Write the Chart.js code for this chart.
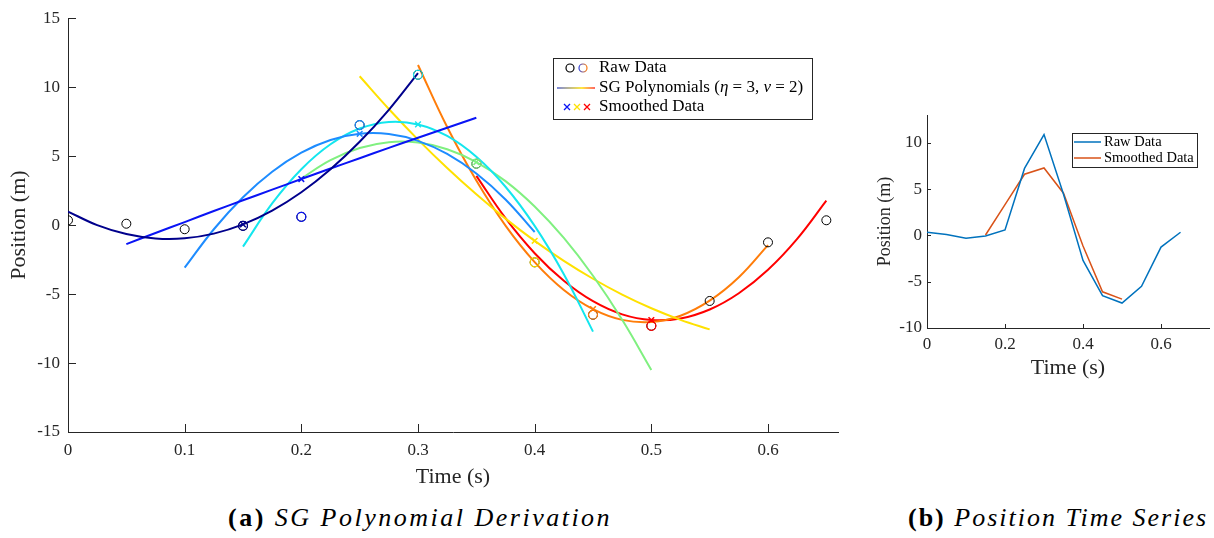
<!DOCTYPE html>
<html>
<head>
<meta charset="utf-8">
<script src="https://cdn.jsdelivr.net/npm/chart.js@4.4.0/dist/chart.umd.min.js"></script>
<style>
  html, body { margin: 0; padding: 0; background: #fff; }
  body { width: 1214px; height: 538px; position: relative; overflow: hidden; font-family: "Liberation Serif", serif; color: #000; }
  #sgChart { position: absolute; left: 0; top: 0; }
  #tsChart { position: absolute; left: 860px; top: 100px; }
  .cap { position: absolute; top: 503px; font-size: 26px; white-space: nowrap; }
</style>
</head>
<body>
<canvas id="sgChart" width="850" height="500"></canvas>
<canvas id="tsChart" width="354" height="290"></canvas>
<div class="cap" style="left:228px; letter-spacing:2.5px"><b>(a)</b> <i>SG Polynomial Derivation</i></div>
<div class="cap" style="left:908px; letter-spacing:2px"><b>(b)</b> <i>Position Time Series</i></div>
<script>
// raw samples
const rawTime = [0, 0.05, 0.1, 0.15, 0.2, 0.25, 0.3, 0.35, 0.4, 0.45, 0.5, 0.55, 0.6, 0.65];
const rawPosition = [0.35, 0.1, -0.3, -0.05, 0.6, 7.25, 10.9, 4.45, -2.7, -6.5, -7.3, -5.5, -1.25, 0.35];

// smoothed samples (window centres)
const smoothTime = [0.15, 0.2, 0.25, 0.3, 0.35, 0.4, 0.45, 0.5];
const smoothPosition = [0.05, 3.34, 6.62, 7.30, 4.57, -1.14, -6.09, -6.88];

// SG polynomial curves, sampled at centre + offset
const polyOffsets = [-0.15, -0.125, -0.1, -0.075, -0.05, -0.025, 0, 0.025, 0.05, 0.075, 0.1, 0.125, 0.15];
const poly015 = [0.98, 0.00, -0.65, -0.97, -0.96, -0.62, 0.05, 1.05, 2.38, 4.05, 6.04, 8.36, 11.02];
const poly020 = [-1.38, -0.57, 0.22, 1.02, 1.80, 2.57, 3.34, 4.10, 4.85, 5.60, 6.33, 7.06, 7.78];
const poly025 = [-3.09, -0.30, 2.02, 3.87, 5.25, 6.17, 6.62, 6.60, 6.11, 5.16, 3.74, 1.86, -0.50];
const poly030 = [-1.56, 1.57, 4.05, 5.86, 7.00, 7.48, 7.30, 6.46, 4.95, 2.78, -0.06, -3.56, -7.72];
const poly035 = [3.38, 4.71, 5.59, 6.01, 5.98, 5.50, 4.57, 3.19, 1.35, -0.93, -3.67, -6.86, -10.50];
const poly040 = [10.79, 8.42, 6.20, 4.14, 2.23, 0.47, -1.14, -2.59, -3.89, -5.04, -6.03, -6.87, -7.56];
const poly045 = [11.61, 7.11, 3.23, -0.04, -2.68, -4.70, -6.09, -6.87, -7.03, -6.57, -5.48, -3.78, -1.45];
const poly050 = [3.57, 0.50, -2.04, -4.04, -5.52, -6.47, -6.88, -6.77, -6.12, -4.94, -3.24, -1.00, 1.77];
const polyCurves = [poly015, poly020, poly025, poly030, poly035, poly040, poly045, poly050];
const polyColors = ['#00008c', '#0a14f5', '#1e8cff', '#14e6ee', '#80f080', '#ffe100', '#ff7d0a', '#ff0000'];

// ticks
const sgXTicks = [0, 0.1, 0.2, 0.3, 0.4, 0.5, 0.6];
const sgYTicks = [-15, -10, -5, 0, 5, 10, 15];
const tsXTicks = [0, 0.2, 0.4, 0.6];
const tsYTicks = [-10, -5, 0, 5, 10];

const axisColor = '#262626';
const serif = '"Liberation Serif", serif';

const pts = (xs, ys) => xs.map((x, i) => ({x: x, y: ys[i]}));

// MATLAB style ticks pointing into the axes
const innerTicks = {
    id: 'innerTicks',
    afterDraw(chart, args, opts) {
        const {ctx, chartArea: a, scales: {x, y}} = chart;
        ctx.save();
        ctx.strokeStyle = axisColor;
        ctx.lineWidth = 1;
        ctx.beginPath();
        x.ticks.forEach(t => {
            const px = Math.round(x.getPixelForValue(t.value)) + 0.5;
            ctx.moveTo(px, a.bottom);
            ctx.lineTo(px, a.bottom - opts.len);
        });
        y.ticks.forEach(t => {
            const py = Math.round(y.getPixelForValue(t.value)) + 0.5;
            ctx.moveTo(a.left, py);
            ctx.lineTo(a.left + opts.len, py);
        });
        ctx.stroke();
        ctx.restore();
    }
};

function drawRuns(ctx, x, y, runs) {
    runs.forEach(r => {
        ctx.font = r[1];
        ctx.fillText(r[0], x, y);
        x += ctx.measureText(r[0]).width;
    });
}

const sgLegend = {
    id: 'sgLegend',
    afterDraw(chart) {
        const ctx = chart.ctx;
        const bx = 553.5, by = 58.5, bw = 259, bh = 61;
        ctx.save();
        ctx.fillStyle = '#fff';
        ctx.fillRect(bx, by, bw, bh);
        ctx.strokeStyle = axisColor;
        ctx.lineWidth = 1;
        ctx.strokeRect(bx, by, bw, bh);

        // raw data: black circle + coloured circle
        ctx.lineWidth = 1.2;
        ctx.strokeStyle = '#000';
        ctx.beginPath(); ctx.arc(570, 68, 4, 0, Math.PI * 2); ctx.stroke();
        const cg = ctx.createLinearGradient(579, 0, 587, 0);
        cg.addColorStop(0, '#2a3cd8'); cg.addColorStop(1, '#ff7d0a');
        ctx.strokeStyle = cg;
        ctx.beginPath(); ctx.arc(583, 68, 4, 0, Math.PI * 2); ctx.stroke();

        // polynomial line with colour ramp
        const lg = ctx.createLinearGradient(557, 0, 595, 0);
        lg.addColorStop(0, '#5060d0'); lg.addColorStop(0.65, '#ffe100'); lg.addColorStop(1, '#ff3030');
        ctx.strokeStyle = lg;
        ctx.lineWidth = 1.5;
        ctx.beginPath(); ctx.moveTo(557, 88); ctx.lineTo(595, 88); ctx.stroke();

        // smoothed crosses
        [[567, '#0a14f5'], [577, '#ffe100'], [587, '#ff0000']].forEach(c => {
            ctx.strokeStyle = c[1];
            ctx.lineWidth = 1.3;
            ctx.beginPath();
            ctx.moveTo(c[0] - 3, 104); ctx.lineTo(c[0] + 3, 110);
            ctx.moveTo(c[0] + 3, 104); ctx.lineTo(c[0] - 3, 110);
            ctx.stroke();
        });

        ctx.fillStyle = '#000';
        ctx.textBaseline = 'middle';
        const f = '17px ' + serif, fi = 'italic 17px ' + serif;
        drawRuns(ctx, 599, 68, [['Raw Data', f]]);
        drawRuns(ctx, 599, 88, [['SG Polynomials (', f], ['\u03b7', fi], [' = 3, ', f], ['\u03bd', fi], [' = 2)', f]]);
        drawRuns(ctx, 599, 107, [['Smoothed Data', f]]);
        ctx.restore();
    }
};

const tsLegend = {
    id: 'tsLegend',
    afterDraw(chart) {
        const ctx = chart.ctx;
        ctx.save();
        ctx.fillStyle = '#fff';
        ctx.fillRect(212.5, 33.5, 125, 34);
        ctx.strokeStyle = axisColor;
        ctx.lineWidth = 1;
        ctx.strokeRect(212.5, 33.5, 125, 34);
        [[42, '#0072BD', 'Raw Data'], [58, '#D95319', 'Smoothed Data']].forEach(r => {
            ctx.strokeStyle = r[1];
            ctx.lineWidth = 1.5;
            ctx.beginPath(); ctx.moveTo(214, r[0]); ctx.lineTo(241, r[0]); ctx.stroke();
            ctx.fillStyle = '#000';
            ctx.textBaseline = 'middle';
            ctx.font = '14.5px ' + serif;
            ctx.fillText(r[2], 244, r[0]);
        });
        ctx.restore();
    }
};

function axis(ticks, min, max, fontSize, pad, titleText, titleSize, titlePad, fitSize, isY) {
    return {
        type: 'linear',
        min: min,
        max: max,
        afterBuildTicks: s => { s.ticks = ticks.map(v => ({value: v})); },
        afterFit: s => { if (isY) s.width = fitSize; else s.height = fitSize; },
        grid: {display: true, drawOnChartArea: false, drawTicks: false},
        border: {display: true, color: axisColor, width: 1},
        ticks: {
            color: axisColor,
            font: {family: serif, size: fontSize},
            padding: pad,
            maxRotation: 0,
            autoSkip: false,
            callback: v => String(v)
        },
        title: {
            display: true,
            text: titleText,
            color: axisColor,
            font: {family: serif, size: titleSize},
            padding: isY ? {top: titlePad, bottom: 0} : {top: 0, bottom: titlePad}
        }
    };
}

// left: SG polynomial derivation
const sgDatasets = [];
sgDatasets.push({
    label: 'Smoothed',
    data: pts(smoothTime, smoothPosition),
    pointStyle: 'crossRot',
    pointRadius: 4,
    pointBorderWidth: 1.5,
    pointBorderColor: polyColors,
    showLine: false
});
sgDatasets.push({
    label: 'Raw centre',
    data: pts(smoothTime, smoothTime.map(t => rawPosition[rawTime.indexOf(t)])),
    pointStyle: 'circle',
    pointRadius: 4.5,
    pointBorderWidth: 1.2,
    pointBorderColor: polyColors,
    pointBackgroundColor: 'rgba(0,0,0,0)',
    showLine: false
});
sgDatasets.push({
    label: 'Raw',
    data: pts(rawTime, rawPosition),
    pointStyle: 'circle',
    pointRadius: 4.5,
    pointBorderWidth: 1,
    pointBorderColor: '#000',
    pointBackgroundColor: 'rgba(0,0,0,0)',
    showLine: false
});
polyCurves.forEach((vals, k) => {
    const centre = smoothTime[k];
    sgDatasets.push({
        label: 'SG ' + centre,
        data: pts(polyOffsets.map(o => Math.round((centre + o) * 1000) / 1000), vals),
        showLine: true,
        borderColor: polyColors[k],
        borderWidth: 2,
        pointRadius: 0,
        tension: 0.4
    });
});

new Chart(document.getElementById('sgChart'), {
    type: 'scatter',
    data: {datasets: sgDatasets},
    options: {
        responsive: false,
        animation: false,
        devicePixelRatio: 1,
        layout: {padding: {left: 0, top: 13, right: 12, bottom: 0}},
        plugins: {legend: {display: false}, tooltip: {enabled: false}, innerTicks: {len: 8}},
        scales: {
            x: axis(sgXTicks, 0, 0.66, 17, 8, 'Time (s)', 22, 10, 68, false),
            y: axis(sgYTicks, -15, 15, 17, 8, 'Position (m)', 22, 6, 68, true)
        }
    },
    plugins: [innerTicks, sgLegend]
});

// right: position time series
new Chart(document.getElementById('tsChart'), {
    type: 'scatter',
    data: {
        datasets: [
            {label: 'Raw Data', data: pts(rawTime, rawPosition), showLine: true, borderColor: '#0072BD', borderWidth: 1.5, pointRadius: 0},
            {label: 'Smoothed Data', data: pts(smoothTime, smoothPosition), showLine: true, borderColor: '#D95319', borderWidth: 1.5, pointRadius: 0}
        ]
    },
    options: {
        responsive: false,
        animation: false,
        devicePixelRatio: 1,
        layout: {padding: {left: 0, top: 14, right: 5, bottom: 0}},
        plugins: {legend: {display: false}, tooltip: {enabled: false}, innerTicks: {len: 4}},
        scales: {
            x: axis(tsXTicks, 0, 0.723, 17, 6, 'Time (s)', 22, 9, 62, false),
            y: axis(tsYTicks, -10, 13, 17, 5, 'Position (m)', 18, 14, 67, true)
        }
    },
    plugins: [innerTicks, tsLegend]
});
</script>
</body>
</html>
